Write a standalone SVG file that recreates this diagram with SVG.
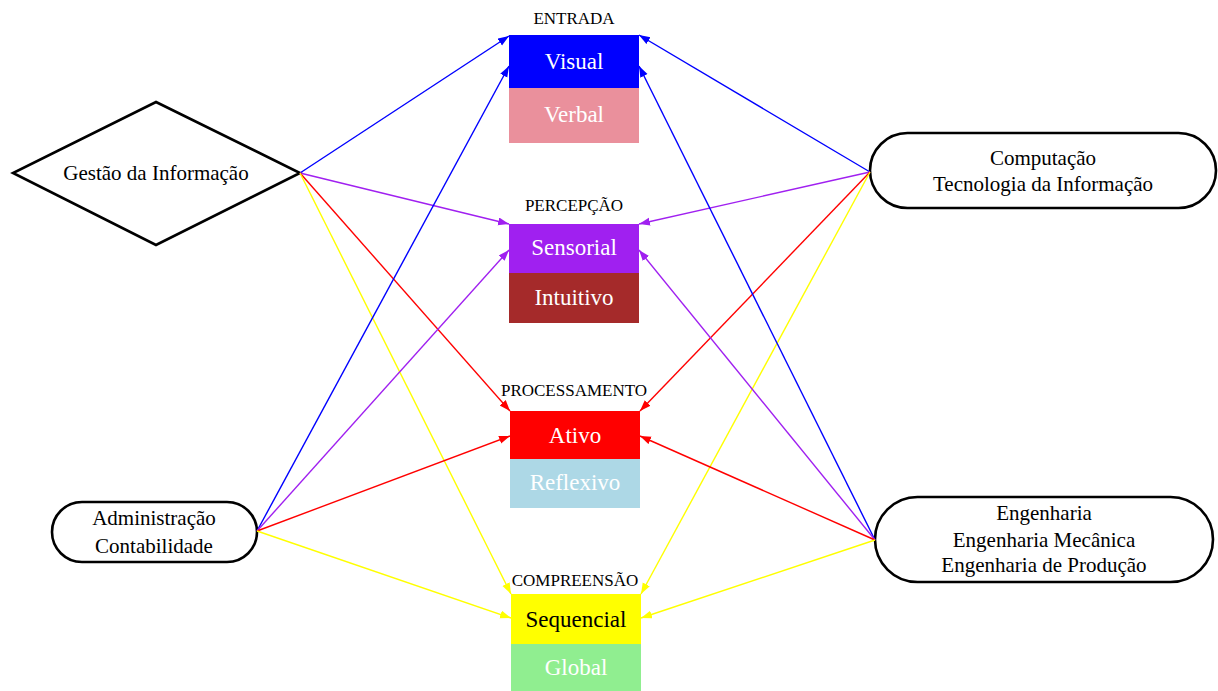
<svg xmlns="http://www.w3.org/2000/svg" width="1218" height="691" viewBox="0 0 1218 691">
<style>
text{font-family:"Liberation Serif","Times New Roman",serif;text-anchor:middle}
.cl{font-size:17px;fill:#000}
.bx{font-size:23px;fill:#fff}
.nd{font-size:21px;fill:#000}
.shape{fill:#fff;stroke:#000;stroke-width:2.6}
.e{fill:none;stroke-width:1.4}
.b{stroke:#0000ff}.p{stroke:#a020f0}.r{stroke:#ff0000}.y{stroke:#ffff00}
</style>
<defs>
<marker id="mb" markerUnits="userSpaceOnUse" markerWidth="12" markerHeight="9" refX="11" refY="4" orient="auto"><path d="M0,0 L11,4 L0,8z" fill="#0000ff"/></marker>
<marker id="mp" markerUnits="userSpaceOnUse" markerWidth="12" markerHeight="9" refX="11" refY="4" orient="auto"><path d="M0,0 L11,4 L0,8z" fill="#a020f0"/></marker>
<marker id="mr" markerUnits="userSpaceOnUse" markerWidth="12" markerHeight="9" refX="11" refY="4" orient="auto"><path d="M0,0 L11,4 L0,8z" fill="#ff0000"/></marker>
<marker id="my" markerUnits="userSpaceOnUse" markerWidth="12" markerHeight="9" refX="11" refY="4" orient="auto"><path d="M0,0 L11,4 L0,8z" fill="#ffff00"/></marker>
</defs>
<rect width="1218" height="691" fill="#fff"/>

<g id="entrada">
<text class="cl" x="574" y="24">ENTRADA</text>
<rect x="509" y="35" width="130" height="53" fill="#0000ff"/>
<text class="bx" x="574" y="69">Visual</text>
<rect x="509" y="88" width="130" height="55" fill="#ea909c"/>
<text class="bx" x="574" y="122">Verbal</text>
</g>
<g id="percepcao">
<text class="cl" x="574" y="211">PERCEPÇÃO</text>
<rect x="509" y="224" width="130" height="49" fill="#a020f0"/>
<text class="bx" x="574" y="255">Sensorial</text>
<rect x="509" y="273" width="130" height="50" fill="#a52a2a"/>
<text class="bx" x="574" y="305">Intuitivo</text>
</g>
<g id="processamento">
<text class="cl" x="574" y="396">PROCESSAMENTO</text>
<rect x="510" y="411" width="130" height="48" fill="#ff0000"/>
<text class="bx" x="575" y="443">Ativo</text>
<rect x="510" y="459" width="130" height="49" fill="#add8e6"/>
<text class="bx" x="575" y="490">Reflexivo</text>
</g>
<g id="compreensao">
<text class="cl" x="575" y="586">COMPREENSÃO</text>
<rect x="511" y="594" width="130" height="50" fill="#ffff00"/>
<text class="bx" x="576" y="627" fill="#000" style="fill:#000">Sequencial</text>
<rect x="511" y="644" width="130" height="47" fill="#90ee90"/>
<text class="bx" x="576" y="675">Global</text>
</g>

<g id="gestao">
<polygon class="shape" points="156,102 300,173 156,245 13,173"/>
<text class="nd" x="156" y="180">Gestão da Informação</text>
</g>
<g id="computacao">
<rect class="shape" x="870" y="133" width="346" height="75" rx="37.5"/>
<text class="nd" x="1043" y="165">Computação</text>
<text class="nd" x="1043" y="191">Tecnologia da Informação</text>
</g>
<g id="administracao">
<rect class="shape" x="52" y="502" width="205" height="60" rx="30"/>
<text class="nd" x="154" y="525">Administração</text>
<text class="nd" x="154" y="553">Contabilidade</text>
</g>
<g id="engenharia">
<rect class="shape" x="875" y="497" width="338" height="85" rx="42.5"/>
<text class="nd" x="1044" y="520">Engenharia</text>
<text class="nd" x="1044" y="547">Engenharia Mecânica</text>
<text class="nd" x="1044" y="572">Engenharia de Produção</text>
</g>

<g id="connectors">
<line class="e b" x1="300" y1="173" x2="509" y2="36" marker-end="url(#mb)"/>
<line class="e p" x1="300" y1="173" x2="509" y2="224" marker-end="url(#mp)"/>
<line class="e r" x1="300" y1="173" x2="510" y2="411" marker-end="url(#mr)"/>
<line class="e y" x1="300" y1="173" x2="511" y2="594" marker-end="url(#my)"/>

<line class="e b" x1="870" y1="172" x2="639" y2="35" marker-end="url(#mb)"/>
<line class="e p" x1="870" y1="172" x2="639" y2="224" marker-end="url(#mp)"/>
<line class="e r" x1="870" y1="172" x2="640" y2="411" marker-end="url(#mr)"/>
<line class="e y" x1="870" y1="172" x2="641" y2="594" marker-end="url(#my)"/>

<line class="e b" x1="257" y1="531" x2="509" y2="66" marker-end="url(#mb)"/>
<line class="e p" x1="257" y1="531" x2="509" y2="250" marker-end="url(#mp)"/>
<line class="e r" x1="257" y1="531" x2="510" y2="436" marker-end="url(#mr)"/>
<line class="e y" x1="257" y1="531" x2="511" y2="618" marker-end="url(#my)"/>

<line class="e b" x1="875" y1="540" x2="639" y2="66" marker-end="url(#mb)"/>
<line class="e p" x1="875" y1="540" x2="639" y2="250" marker-end="url(#mp)"/>
<line class="e r" x1="875" y1="540" x2="640" y2="436" marker-end="url(#mr)"/>
<line class="e y" x1="875" y1="540" x2="641" y2="618" marker-end="url(#my)"/>
</g>
</svg>
